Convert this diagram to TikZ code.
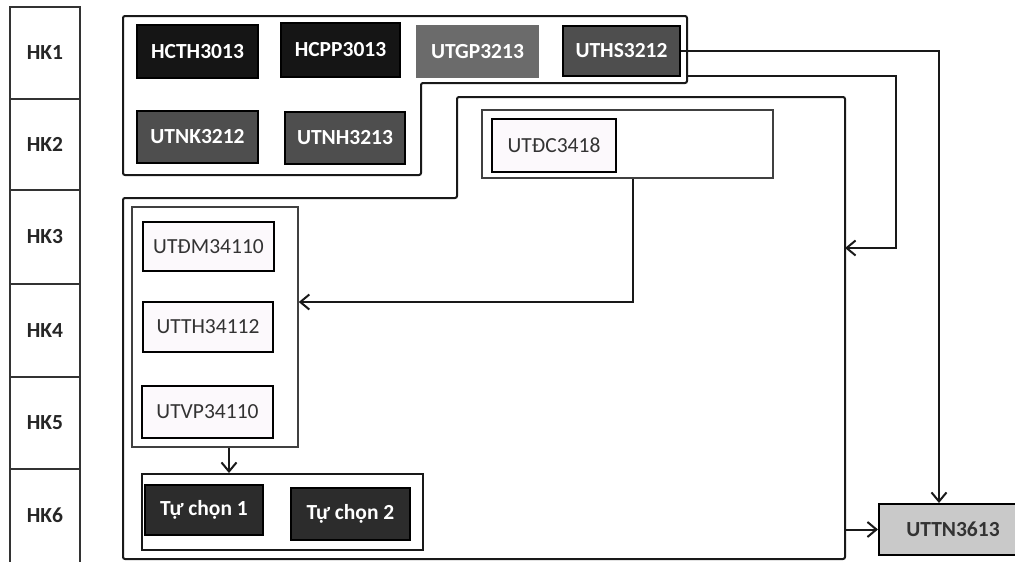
\documentclass[tikz,border=0pt]{standalone}
\usepackage{fontspec}
\setmainfont{Carlito}
\usetikzlibrary{arrows.meta}
\definecolor{boxblack}{HTML}{151515}
\definecolor{boxmid}{HTML}{6B6B6B}
\definecolor{boxdark}{HTML}{4E4E4E}
\definecolor{boxtc}{HTML}{2C2C2C}
\definecolor{boxlight}{HTML}{FCF9FC}
\definecolor{boxgray}{HTML}{C9C9C9}
\definecolor{txtdark}{HTML}{333333}
\tikzset{
  cbox/.style={rectangle, inner sep=0pt, font=\fontsize{21.5}{24}\selectfont},
  darkbox/.style={cbox, draw=black, line width=2pt, text=white, font=\fontsize{21.5}{24}\selectfont\bfseries},
  lightbox/.style={cbox, draw=black, line width=2.2pt, fill=boxlight, text=txtdark},
  hkbox/.style={rectangle, inner sep=0pt, draw=black!80, line width=1.1pt, minimum width=70pt, text=black!85, font=\fontsize{21.5}{24}\selectfont\bfseries},
  container/.style={draw=black!90, line width=2pt, rounded corners=2pt},
  thincont/.style={rectangle, inner sep=0pt, draw=black!75, line width=1.5pt},
  conn/.style={draw=black!90, line width=2pt},
  arr/.style={conn, -{Straight Barb[length=9pt,width=15pt,line width=2pt]}}
}
% box from corner coordinates
\newcommand{\mybox}[7]{%
  \node[#6, minimum width={#4-#2}, minimum height={#5-#3}] (#1) at ({(#2+#4)/2},{(#3+#5)/2}) {#7};}
\begin{document}
\begin{tikzpicture}[x=1pt,y=-1pt]
\useasboundingbox (0,0) rectangle (1015,562);
\fill[white] (0,0) rectangle (1015,562);
% semester column
\mybox{hk1}{10}{7}{80}{99}{hkbox}{HK1}
\mybox{hk2}{10}{99}{80}{190}{hkbox}{HK2}
\mybox{hk3}{10}{190}{80}{284}{hkbox}{HK3}
\mybox{hk4}{10}{284}{80}{377}{hkbox}{HK4}
\mybox{hk5}{10}{377}{80}{469}{hkbox}{HK5}
\node[hkbox, minimum height=100pt, anchor=north] (hk6) at (45,469) {};
\node[text=black!85, font=\fontsize{21.5}{24}\selectfont\bfseries] (hk6t) at (45,515) {HK6};
% top group outline
\draw[container] (123,16) -- (687,16) -- (687,83) -- (421,83) -- (421,175) -- (123,175) -- cycle;
% big container outline
\draw[container] (457,97) -- (845,97) -- (845,559) -- (123,559) -- (123,198) -- (457,198) -- cycle;
% top courses
\mybox{hcth}{137}{25}{258}{78}{darkbox, fill=boxblack}{HCTH3013}
\mybox{hcpp}{281}{23}{400}{77}{darkbox, fill=boxblack}{HCPP3013}
\mybox{utgp}{417}{26}{538}{77}{darkbox, draw=boxmid, fill=boxmid}{UTGP3213}
\mybox{uths}{563}{26}{680}{76}{darkbox, line width=2.4pt, fill=boxdark}{UTHS3212}
\mybox{utnk}{137}{111}{258}{163}{darkbox, fill=boxdark}{UTNK3212}
\mybox{utnh}{285}{112}{405}{164}{darkbox, fill=boxdark}{UTNH3213}
% UTDC group
\mybox{dcbox}{482}{110}{773}{178}{thincont}{}
\mybox{utdc}{492}{119}{616}{172}{lightbox}{UTĐC3418}
% list group
\mybox{list}{132}{207}{298}{447}{thincont}{}
\mybox{utdm}{143}{222}{274}{271}{lightbox}{UTĐM34110}
\mybox{utth}{143}{302}{273}{352}{lightbox}{UTTH34112}
\mybox{utvp}{142}{386}{273}{438}{lightbox}{UTVP34110}
% elective group
\mybox{tcgroup}{142}{474}{423}{550}{thincont, draw=black!90, line width=2pt}{}
\mybox{tc1}{145}{485}{263}{535}{darkbox, fill=boxtc}{Tự chọn 1}
\mybox{tc2}{291}{488}{410}{540}{darkbox, fill=boxtc}{Tự chọn 2}
% final
\mybox{uttn}{879}{504}{1027}{555}{darkbox, fill=boxgray, text=txtdark}{UTTN3613}
% connector helper coordinates
\coordinate (r1) at (939,0);
\coordinate (g1) at (687,76);
\coordinate (r2) at (896,0);
\coordinate (bigR) at (845,248);
\coordinate (a3) at (633,302);
\coordinate (a4) at (229,0);
\coordinate (bigR2) at (845,0);
% connectors
\draw[arr] (uths.east) -| (r1 |- uttn.north);
\draw[arr] (g1) -| (r2 |- bigR) -- (bigR);
\draw[arr] (dcbox.south -| a3) |- (list.east |- a3);
\draw[arr] (list.south -| a4) -- (tcgroup.north -| a4);
\draw[arr] (bigR2 |- uttn.west) -- (uttn.west);
\end{tikzpicture}
\end{document}
